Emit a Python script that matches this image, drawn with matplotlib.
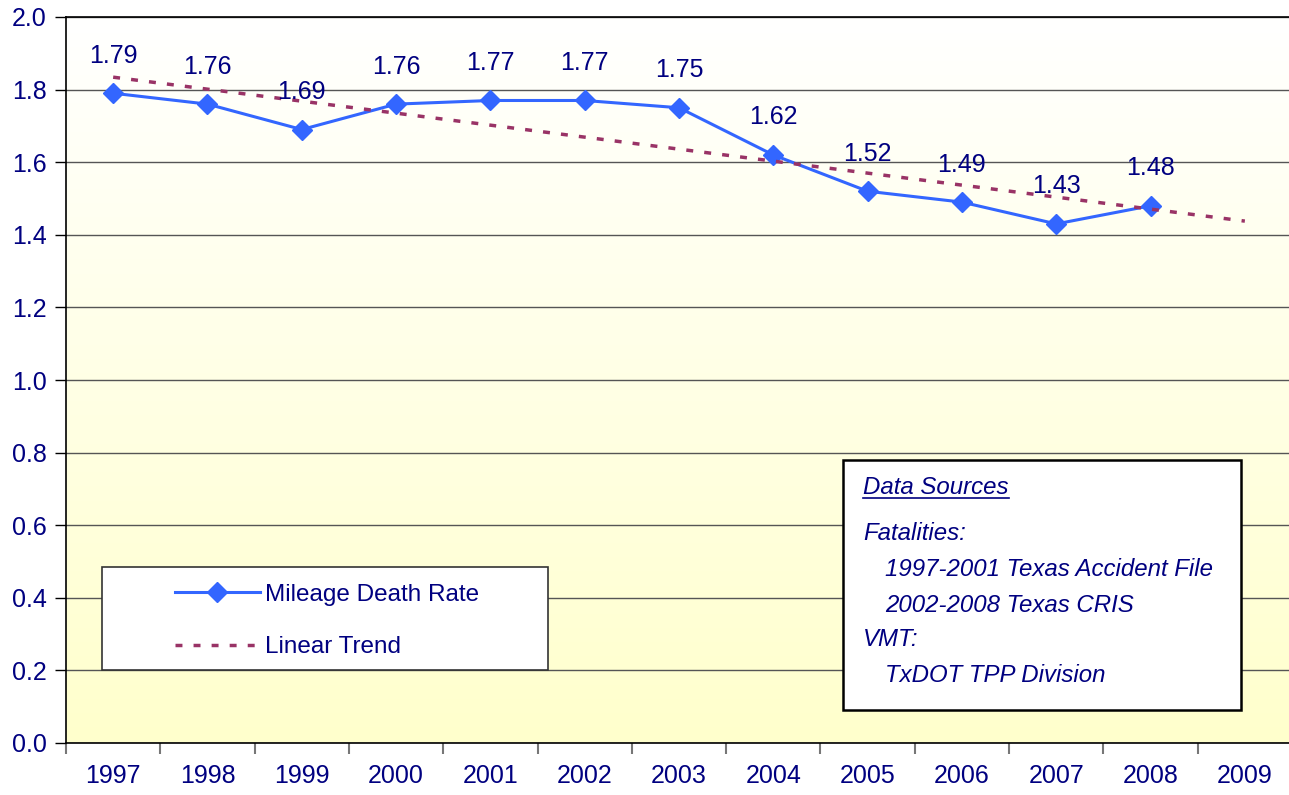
import matplotlib
matplotlib.use("Agg")
import matplotlib.pyplot as plt
from matplotlib.patches import Rectangle
from matplotlib.lines import Line2D
import numpy as np

plt.rcParams['font.family'] = ['Liberation Sans', 'DejaVu Sans']

# Data
years = ["1997", "1998", "1999", "2000", "2001", "2002", "2003",
         "2004", "2005", "2006", "2007", "2008", "2009"]
death_rate = [1.79, 1.76, 1.69, 1.76, 1.77, 1.77, 1.75,
              1.62, 1.52, 1.49, 1.43, 1.48]
yticks = [0.0, 0.2, 0.4, 0.6, 0.8, 1.0, 1.2, 1.4, 1.6, 1.8, 2.0]

navy = "#000080"
blue = "#3366FF"
maroon = "#993366"

fig = plt.figure(figsize=(12.89, 7.95), dpi=100)
ax = fig.add_axes([66 / 1289, 1 - 743 / 795, 1226 / 1289, 726 / 795])

# gradient background, white at top to pale yellow at bottom
grad = np.linspace(0, 1, 256).reshape(-1, 1)
top = np.array([1.0, 1.0, 1.0])
bot = np.array([1.0, 1.0, 0.80])
img = top + (bot - top) * grad[:, :, None]
ax.imshow(img, extent=[0, 1, 0, 1], transform=ax.transAxes, aspect="auto", zorder=0)

x = np.arange(len(death_rate))
ax.plot(x, death_rate, color=blue, lw=2.2, marker="D", ms=10.5, mec=blue, mfc=blue,
        zorder=3, label="Mileage Death Rate")

# linear trend, projected one year ahead
coef = np.polyfit(x, death_rate, 1)
xt = np.arange(len(years))
ax.plot(xt, np.polyval(coef, xt), color=maroon, lw=2.5, dashes=(2.0, 3.2),
        zorder=4, label="Linear Trend")

for xi, v in zip(x, death_rate):
    ax.annotate(f"{v:.2f}", (xi, v), xytext=(0, 27), textcoords="offset points",
                ha="center", va="center", fontsize=18, color=navy, zorder=5)

ax.set_xlim(-0.5, len(years) - 0.5)
ax.set_ylim(0, 2.0)
ax.set_yticks(yticks)
ax.set_yticklabels([f"{t:.1f}" for t in yticks])
ax.set_xticks(xt)
ax.set_xticklabels(years)
ax.set_xticks(np.arange(-0.5, len(years)), minor=True)
ax.tick_params(axis="x", which="major", length=0, pad=15, labelsize=18, labelcolor=navy)
ax.tick_params(axis="x", which="minor", length=8, width=1.5, color="#777777", direction="out")
ax.tick_params(axis="y", length=8, width=1, color="black", pad=6, labelsize=18,
               labelcolor=navy, direction="out")

ax.yaxis.grid(True, color="#555555", lw=1)
ax.set_axisbelow(True)
for sp in ["left", "bottom", "top"]:
    ax.spines[sp].set_color("black")
    ax.spines[sp].set_linewidth(1.2)
ax.spines["right"].set_visible(False)

def fx(px):
    return px / 1289
def fy(py):
    return 1 - py / 795

# legend with its own frame
fig.patches.append(Rectangle((fx(102), fy(670)), fx(548) - fx(102), fy(567) - fy(670),
                             transform=fig.transFigure, facecolor="white",
                             edgecolor="#333333", lw=1.2, zorder=5))
handles, labels = ax.get_legend_handles_labels()
leg = fig.legend(handles, labels, loc="upper left", bbox_to_anchor=(fx(165), fy(574)),
                 bbox_transform=fig.transFigure, frameon=False, fontsize=17.5,
                 handlelength=3.5, handletextpad=0.2, labelspacing=1.25,
                 borderaxespad=0, borderpad=0.4)
for t in leg.get_texts():
    t.set_color(navy)
leg.set_zorder(6)

# data sources box
fig.patches.append(Rectangle((fx(843), fy(710)), fx(1241) - fx(843), fy(460) - fy(710),
                             transform=fig.transFigure, facecolor="white",
                             edgecolor="black", lw=1.8, zorder=5))
src_lines = [
    ("Data Sources", 863, 487),
    ("Fatalities:", 863, 533),
    ("1997-2001 Texas Accident File", 885, 569),
    ("2002-2008 Texas CRIS", 885, 605),
    ("VMT:", 863, 640),
    ("TxDOT TPP Division", 885, 676),
]
texts = []
for s, px, py in src_lines:
    texts.append(fig.text(fx(px), fy(py), s, ha="left", va="center", fontsize=17.3,
                          style="italic", color=navy, zorder=7))

fig.canvas.draw()
r = fig.canvas.get_renderer()
bb = texts[0].get_window_extent(r)
uy = (bb.y0 + 1) / 795
fig.lines.append(Line2D([bb.x0 / 1289, bb.x1 / 1289], [uy, uy], transform=fig.transFigure,
                        color=navy, lw=1.2, zorder=7))

fig.savefig("out.png", dpi=100)
